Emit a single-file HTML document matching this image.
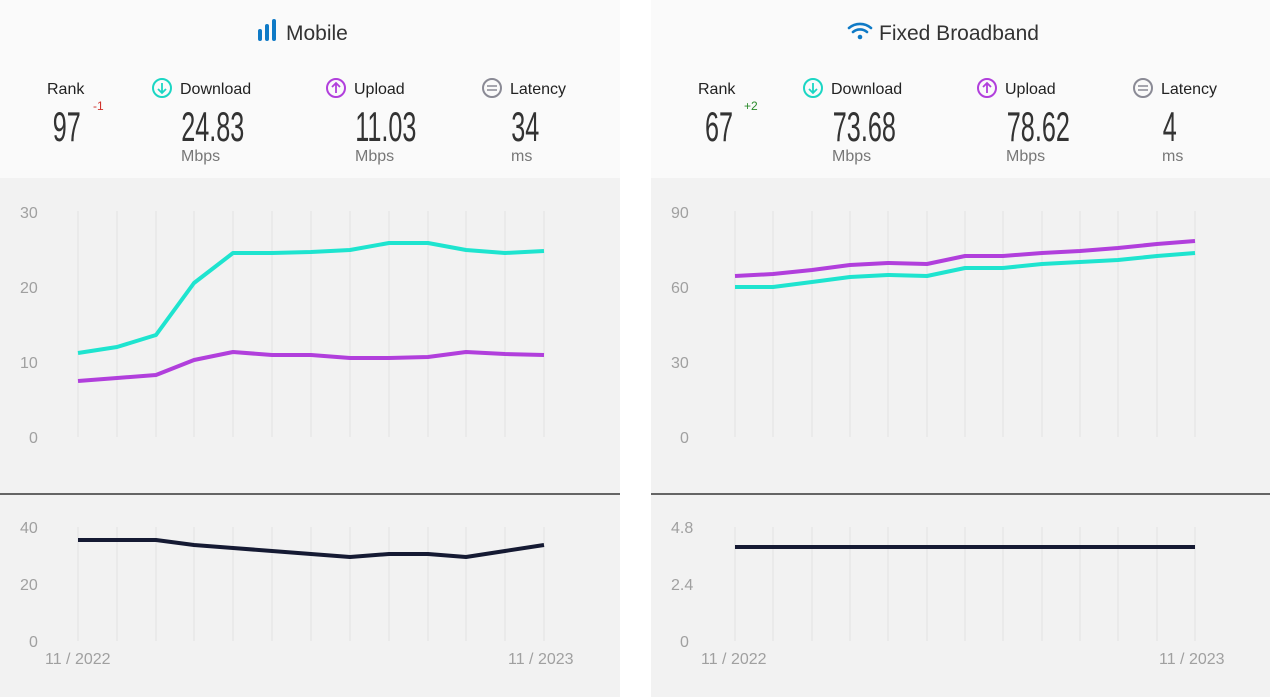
<!DOCTYPE html>
<html><head><style>
body{margin:0;background:#fff;}
svg{display:block;font-family:"Liberation Sans",sans-serif;}
</style></head><body>
<svg width="1272" height="697" viewBox="0 0 1272 697">
<rect width="1272" height="697" fill="#fff"/>
<!-- LEFT CARD -->
<rect x="0" y="0" width="620" height="697" fill="#f2f2f2"/>
<rect x="0" y="0" width="620" height="178" fill="#fafafa"/>
<g fill="#0f7ac6"><rect x="258" y="29" width="4" height="12" rx="2"/><rect x="265" y="24" width="4" height="17" rx="2"/><rect x="272" y="19" width="4" height="22" rx="2"/></g>
<text x="286" y="40" font-size="21" fill="#333">Mobile</text>
<g font-size="16" fill="#222">
<text x="47" y="94">Rank</text>
<circle cx="162" cy="88" r="9" fill="none" stroke="#1bd6c4" stroke-width="2"/><path d="M162 83v9M158 89l4 4 4-4" stroke="#1bd6c4" stroke-width="1.8" fill="none"/>
<text x="180" y="94">Download</text>
<circle cx="336" cy="88" r="9" fill="none" stroke="#b13fdc" stroke-width="2"/><path d="M336 93v-9M332 87l4-4 4 4" stroke="#b13fdc" stroke-width="1.8" fill="none"/>
<text x="354" y="94">Upload</text>
<circle cx="492" cy="88" r="9" fill="none" stroke="#8a8a95" stroke-width="2"/><path d="M487 86h10M487 90h10" stroke="#8a8a95" stroke-width="1.6"/>
<text x="510" y="94">Latency</text>
</g>
<g font-size="42" fill="#333" transform="scale(0.6,1)">
<text x="88" y="141">97</text>
<text x="302" y="141">24.83</text>
<text x="592" y="141">11.03</text>
<text x="852" y="141">34</text>
</g>
<text x="93" y="110" font-size="12" fill="#d0302a">-1</text>
<g font-size="16" fill="#777"><text x="181" y="161">Mbps</text><text x="355" y="161">Mbps</text><text x="511" y="161">ms</text></g>
<g stroke="#e2e2e2" stroke-width="1">
<path d="M78 211V437M117 211V437M156 211V437M194 211V437M233 211V437M272 211V437M311 211V437M350 211V437M389 211V437M428 211V437M466 211V437M505 211V437M544 211V437"/>
<path d="M78 527V641M117 527V641M156 527V641M194 527V641M233 527V641M272 527V641M311 527V641M350 527V641M389 527V641M428 527V641M466 527V641M505 527V641M544 527V641"/>
</g>
<g font-size="16" fill="#a0a0a0"><text x="20" y="218">30</text><text x="20" y="293">20</text><text x="20" y="368">10</text><text x="29" y="443">0</text>
<text x="20" y="533">40</text><text x="20" y="590">20</text><text x="29" y="647">0</text>
<text x="45" y="664">11 / 2022</text><text x="508" y="664">11 / 2023</text></g>
<polyline fill="none" stroke="#1ee4cf" stroke-width="4" stroke-linejoin="round" points="78,353 117,347 156,335 194,283 233,253 272,253 311,252 350,250 389,243 428,243 466,250 505,253 544,251"/>
<polyline fill="none" stroke="#b13fdc" stroke-width="4" stroke-linejoin="round" points="78,381 117,378 156,375 194,360 233,352 272,355 311,355 350,358 389,358 428,357 466,352 505,354 544,355"/>
<line x1="0" y1="494" x2="620" y2="494" stroke="#111" stroke-width="1.3"/>
<polyline fill="none" stroke="#151a33" stroke-width="4" stroke-linejoin="round" points="78,540 117,540 156,540 194,545 233,548 272,551 311,554 350,557 389,554 428,554 466,557 505,551 544,545"/>

<!-- RIGHT CARD -->
<rect x="651" y="0" width="619" height="697" fill="#f2f2f2"/>
<rect x="651" y="0" width="619" height="178" fill="#fafafa"/>
<g fill="none" stroke="#0f7ac6" stroke-width="2.6" stroke-linecap="round"><path d="M849 28a17 17 0 0 1 22 0"/><path d="M853 32a11 11 0 0 1 14 0"/></g><circle cx="860" cy="37" r="2.3" fill="#0f7ac6"/>
<text x="879" y="40" font-size="21" fill="#333">Fixed Broadband</text>
<g font-size="16" fill="#222">
<text x="698" y="94">Rank</text>
<circle cx="813" cy="88" r="9" fill="none" stroke="#1bd6c4" stroke-width="2"/><path d="M813 83v9M809 89l4 4 4-4" stroke="#1bd6c4" stroke-width="1.8" fill="none"/>
<text x="831" y="94">Download</text>
<circle cx="987" cy="88" r="9" fill="none" stroke="#b13fdc" stroke-width="2"/><path d="M987 93v-9M983 87l4-4 4 4" stroke="#b13fdc" stroke-width="1.8" fill="none"/>
<text x="1005" y="94">Upload</text>
<circle cx="1143" cy="88" r="9" fill="none" stroke="#8a8a95" stroke-width="2"/><path d="M1138 86h10M1138 90h10" stroke="#8a8a95" stroke-width="1.6"/>
<text x="1161" y="94">Latency</text>
</g>
<g font-size="42" fill="#333" transform="scale(0.6,1)">
<text x="1175" y="141">67</text>
<text x="1388" y="141">73.68</text>
<text x="1678" y="141">78.62</text>
<text x="1938" y="141">4</text>
</g>
<text x="744" y="110" font-size="12" fill="#2a8a2a">+2</text>
<g font-size="16" fill="#777"><text x="832" y="161">Mbps</text><text x="1006" y="161">Mbps</text><text x="1162" y="161">ms</text></g>
<g stroke="#e2e2e2" stroke-width="1">
<path d="M735 211V437M773 211V437M812 211V437M850 211V437M888 211V437M927 211V437M965 211V437M1003 211V437M1042 211V437M1080 211V437M1118 211V437M1157 211V437M1195 211V437"/>
<path d="M735 527V641M773 527V641M812 527V641M850 527V641M888 527V641M927 527V641M965 527V641M1003 527V641M1042 527V641M1080 527V641M1118 527V641M1157 527V641M1195 527V641"/>
</g>
<g font-size="16" fill="#a0a0a0"><text x="671" y="218">90</text><text x="671" y="293">60</text><text x="671" y="368">30</text><text x="680" y="443">0</text>
<text x="671" y="533">4.8</text><text x="671" y="590">2.4</text><text x="680" y="647">0</text>
<text x="701" y="664">11 / 2022</text><text x="1159" y="664">11 / 2023</text></g>
<polyline fill="none" stroke="#b13fdc" stroke-width="4" stroke-linejoin="round" points="735,276 773,274 812,270 850,265 888,263 927,264 965,256 1003,256 1042,253 1080,251 1118,248 1157,244 1195,241"/>
<polyline fill="none" stroke="#1ee4cf" stroke-width="4" stroke-linejoin="round" points="735,287 773,287 812,282 850,277 888,275 927,276 965,268 1003,268 1042,264 1080,262 1118,260 1157,256 1195,253"/>
<line x1="651" y1="494" x2="1270" y2="494" stroke="#111" stroke-width="1.3"/>
<line x1="735" y1="547" x2="1195" y2="547" stroke="#151a33" stroke-width="4"/>
</svg>
</body></html>
